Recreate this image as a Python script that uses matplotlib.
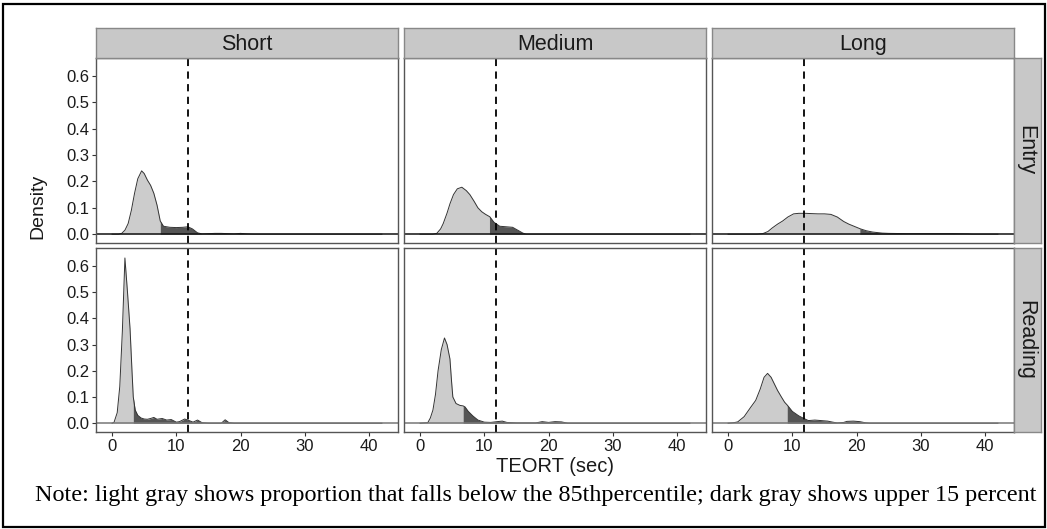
import numpy as np
import matplotlib
matplotlib.use("Agg")
import matplotlib.pyplot as plt
from matplotlib.patches import Rectangle

# ---------------- data ----------------
col_labels = ["Short", "Medium", "Long"]
row_labels = ["Entry", "Reading"]
x_ticks = [0, 10, 20, 30, 40]
y_ticks = [0.0, 0.1, 0.2, 0.3, 0.4, 0.5, 0.6]
ref_line = 11.8  # dashed reference line (sec)

short_entry_x = [0, 1.0, 1.5, 2.0, 2.5, 3.0, 3.5, 4.0, 4.6, 5.0, 5.5, 6.0, 6.5, 7.0, 7.5, 8.0, 9.0,
                 10.0, 11.0, 11.8, 12.5, 13.3, 14, 16, 17, 18, 19, 20, 21, 22, 42]
short_entry_y = [0, 0.0, 0.003, 0.015, 0.04, 0.09, 0.155, 0.21, 0.24, 0.23, 0.205, 0.185, 0.155, 0.11,
                 0.05, 0.03, 0.026, 0.025, 0.026, 0.028, 0.02, 0.005, 0.001, 0.003, 0.003, 0.002, 0.001,
                 0.003, 0.001, 0, 0]
short_reading_x = [0, 0.3, 0.8, 1.2, 1.6, 2.0, 2.4, 2.8, 3.1, 3.3, 3.6, 4.0, 4.5, 5.0, 5.5, 6.0, 6.5, 7.0,
                   7.8, 8.5, 9.2, 10, 10.5, 11.3, 12, 12.6, 13.3, 14, 15, 17, 17.6, 18.2, 19, 42]
short_reading_y = [0, 0.003, 0.04, 0.14, 0.35, 0.63, 0.5, 0.36, 0.2, 0.1, 0.05, 0.03, 0.02, 0.016, 0.015,
                   0.018, 0.022, 0.015, 0.018, 0.012, 0.014, 0.004, 0.006, 0.016, 0.01, 0.004, 0.012,
                   0.002, 0, 0, 0.013, 0.002, 0, 0]
medium_entry_x = [0, 2.0, 2.6, 3.2, 3.6, 4.2, 4.65, 5.2, 5.8, 6.5, 7.2, 7.75, 8.4, 9.0, 9.6, 10.2, 10.85,
                  11.5, 12.4, 13.4, 14.4, 15.2, 16, 16.5, 42]
medium_entry_y = [0, 0, 0.003, 0.02, 0.04, 0.08, 0.115, 0.15, 0.172, 0.178, 0.165, 0.15, 0.125, 0.10,
                  0.085, 0.075, 0.066, 0.045, 0.03, 0.028, 0.026, 0.015, 0.004, 0.0, 0]
medium_reading_x = [0, 1.2, 1.6, 2.0, 2.4, 2.8, 3.3, 3.8, 4.2, 4.65, 4.9, 5.1, 5.6, 6.2, 6.7, 7.0, 7.5,
                    8.2, 9, 10, 11, 12, 12.8, 13.5, 15, 18, 19, 20, 21, 22, 23, 42]
medium_reading_y = [0, 0.002, 0.02, 0.05, 0.11, 0.2, 0.28, 0.325, 0.3, 0.245, 0.16, 0.10, 0.075, 0.068,
                    0.066, 0.062, 0.045, 0.028, 0.012, 0.004, 0.003, 0.006, 0.008, 0.003, 0.001, 0.001,
                    0.006, 0.003, 0.006, 0.005, 0, 0]
long_entry_x = [0, 4.5, 5.4, 6.2, 6.9, 7.7, 8.5, 9.3, 10.2, 11, 12, 13, 14, 15, 16, 17, 18, 18.8, 19.6,
                20.6, 21.5, 22.5, 24, 25, 28, 32, 35, 37.4, 38, 42]
long_entry_y = [0, 0, 0.002, 0.01, 0.024, 0.038, 0.05, 0.065, 0.077, 0.079, 0.079, 0.078, 0.077, 0.077,
                0.075, 0.065, 0.048, 0.038, 0.03, 0.02, 0.013, 0.008, 0.004, 0.003, 0.002, 0.002, 0.002,
                0.001, 0, 0]
long_reading_x = [0, 0.9, 1.5, 2.5, 3.5, 4.3, 5.0, 5.6, 6.15, 6.7, 7.2, 7.7, 8.3, 8.8, 9.25, 10, 11, 11.8,
                  12.5, 13.5, 14.5, 15.5, 16.3, 17, 18, 18.5, 19.5, 20.5, 21.3, 22, 42]
long_reading_y = [0, 0.002, 0.005, 0.025, 0.06, 0.087, 0.13, 0.175, 0.19, 0.175, 0.15, 0.125, 0.1, 0.08,
                  0.068, 0.045, 0.028, 0.018, 0.01, 0.012, 0.01, 0.008, 0.004, 0.001, 0.003, 0.007, 0.008,
                  0.006, 0.002, 0, 0]

# 85th percentile cut points (sec): rows = Entry, Reading; cols = Short, Medium, Long
p85_entry = [7.5, 10.8, 20.5]
p85_reading = [3.3, 6.7, 9.2]

curves = [
    [(short_entry_x, short_entry_y), (medium_entry_x, medium_entry_y), (long_entry_x, long_entry_y)],
    [(short_reading_x, short_reading_y), (medium_reading_x, medium_reading_y), (long_reading_x, long_reading_y)],
]
cuts = [p85_entry, p85_reading]

# ---------------- layout ----------------
W, H = 1047, 529
fig = plt.figure(figsize=(W / 100, H / 100), dpi=100)
plt.rcParams['font.family'] = ['Liberation Sans', 'DejaVu Sans']

def fx(px):
    return px / W

def fy(py):
    return 1 - py / H

col_lefts = [96, 404, 712]
col_w = 302
row_tops = [58, 248]
row_h = [185, 184]
light = '#cccccc'
dark = '#555555'
border_col = '#555555'
strip_col = '#c8c8c8'

for r in range(2):
    for c in range(3):
        left = col_lefts[c]
        top = row_tops[r]
        ax = fig.add_axes([fx(left), fy(top + row_h[r]), fx(col_w), row_h[r] / H])
        xs = np.asarray(curves[r][c][0], float)
        ys = np.asarray(curves[r][c][1], float)
        cut = cuts[r][c]
        ycut = np.interp(cut, xs, ys)
        m1 = xs < cut
        xl = np.append(xs[m1], cut)
        yl = np.append(ys[m1], ycut)
        m2 = xs > cut
        xd = np.insert(xs[m2], 0, cut)
        yd = np.insert(ys[m2], 0, ycut)
        ax.fill_between(xl, 0, yl, color=light, lw=0)
        ax.fill_between(xd, 0, yd, color=dark, lw=0)
        ax.plot(xs, ys, color='#333333', lw=0.7)
        ax.axhline(0, color='#111111' if r == 0 else '#777777', lw=1.1)
        ax.axvline(ref_line, color='black', lw=1.3, ls=(0, (4, 3)))
        ax.set_xlim(-2.5, 44.5)
        ax.set_ylim(-0.0335, 0.668)
        ax.set_xticks(x_ticks)
        ax.set_yticks(y_ticks)
        ax.tick_params(length=3, width=0.8, color='#333333', labelsize=12, labelcolor='#1a1a1a', pad=2)
        if c != 0:
            ax.tick_params(axis='y', left=False, labelleft=False)
        else:
            ax.set_yticklabels([f"{v:.1f}" for v in y_ticks])
        if r != 1:
            ax.tick_params(axis='x', bottom=False, labelbottom=False)
        for s in ax.spines.values():
            s.set_color(border_col)
            s.set_linewidth(1.0)
        # top strips
        if r == 0:
            sax = fig.add_axes([fx(left), fy(58), fx(col_w), 30 / H])
            sax.set_facecolor(strip_col)
            sax.set_xticks([]); sax.set_yticks([])
            for s in sax.spines.values():
                s.set_color('#888888'); s.set_linewidth(1.0)
            sax.text(0.5, 0.45, col_labels[c], ha='center', va='center', fontsize=15.5, color='#1a1a1a',
                     transform=sax.transAxes)
        # right strips
        if c == 2:
            sax = fig.add_axes([fx(1014), fy(top + row_h[r]), fx(27), row_h[r] / H])
            sax.set_facecolor(strip_col)
            sax.set_xticks([]); sax.set_yticks([])
            for s in sax.spines.values():
                s.set_color('#888888'); s.set_linewidth(1.0)
            sax.text(0.45, 0.5, row_labels[r], ha='center', va='center', fontsize=15.5, color='#1a1a1a',
                     rotation=-90, transform=sax.transAxes)

fig.text(fx(38), fy(206), "Density", rotation=90, ha='center', va='center', fontsize=14, color='#1a1a1a')
fig.text(fx(555), fy(466), "TEORT (sec)", ha='center', va='center', fontsize=14.5, color='#1a1a1a')
fig.text(fx(35), fy(495), "Note: light gray shows proportion that falls below the 85thpercentile; dark gray shows upper 15 percent",
         ha='left', va='center', fontsize=17.4, family=['Liberation Serif', 'DejaVu Serif'], color='black')

fig.add_artist(Rectangle((fx(2.5), fy(527)), fx(1042), (527 - 4) / H, transform=fig.transFigure,
                         fill=False, edgecolor='black', lw=1.6))

fig.savefig("out.png", dpi=100)
